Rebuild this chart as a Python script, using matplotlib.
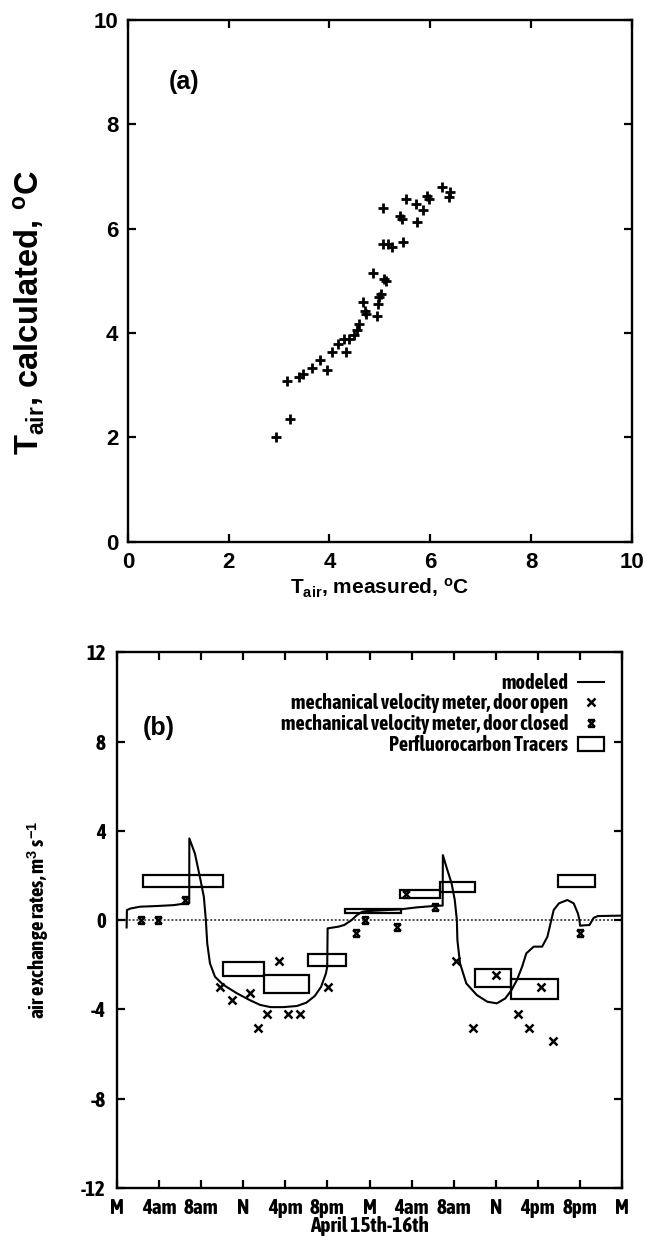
import matplotlib
matplotlib.use("Agg")
import matplotlib.pyplot as plt
from matplotlib.path import Path


FONT_A = ["Liberation Sans", "DejaVu Sans"]
FONT_B = ["Asap Condensed", "Liberation Sans", "DejaVu Sans"]

# (a) measured vs calculated air temperature, deg C
T_MEASURED = [2.93, 3.21, 3.16, 3.39, 3.47, 3.65, 3.81, 3.96, 4.05, 4.17, 4.32,
              4.29, 4.39, 4.49, 4.54, 4.59, 4.67, 4.71, 4.73, 4.87, 4.94, 4.97,
              4.98, 5.03, 5.06, 5.07, 5.08, 5.13, 5.16, 5.24, 5.40, 5.43, 5.46,
              5.52, 5.72, 5.74, 5.85, 5.93, 5.97, 6.23, 6.39, 6.37]
T_CALCULATED = [2.00, 2.35, 3.08, 3.16, 3.22, 3.34, 3.49, 3.30, 3.64, 3.79, 3.64,
                3.89, 3.89, 3.97, 4.06, 4.17, 4.59, 4.42, 4.37, 5.16, 4.33, 4.56,
                4.69, 4.75, 5.70, 6.39, 5.03, 4.99, 5.70, 5.64, 6.25, 6.19, 5.75,
                6.57, 6.47, 6.12, 6.36, 6.63, 6.56, 6.80, 6.70, 6.61]

# (b) air exchange rates, hours from midnight April 15th
MODEL_HOURS = [0.92, 0.95, 1.3, 2.2, 3.8, 5.4, 6.6, 6.87, 6.88, 7.41, 7.88, 8.26,
               8.45, 8.58, 8.84, 9.32, 10.1, 11.4, 12.6, 13.6, 14.6, 15.8, 17.1,
               18.0, 18.8, 19.4, 19.86, 19.98, 20.02, 21.0, 21.6, 22.3, 22.8,
               23.3, 23.7, 26.9, 28.5, 30.1, 30.95, 30.97, 31.3, 31.8, 32.1, 32.3,
               32.35, 32.6, 33.2, 34.2, 35.2, 36.1, 36.9, 37.5, 38.0, 38.5, 38.9,
               39.6, 40.4, 40.9, 41.2, 41.5, 42.0, 42.8, 43.4, 43.8, 43.95, 44.0,
               44.9, 45.3, 45.7, 48.0]
MODEL_RATE = [-0.33, 0.45, 0.52, 0.6, 0.63, 0.67, 0.75, 0.75, 3.66, 2.98, 1.94,
              1.04, 0.0, -1.04, -1.94, -2.54, -2.9, -3.28, -3.58, -3.8, -3.9,
              -3.9, -3.85, -3.7, -3.4, -2.99, -2.39, -2.1, -0.37, -0.3, -0.22,
              0.0, 0.22, 0.37, 0.4, 0.48, 0.57, 0.63, 0.65, 2.91, 2.39, 1.64, 0.9,
              0.0, -0.9, -1.94, -2.84, -3.36, -3.66, -3.73, -3.51, -3.13, -2.69,
              -2.09, -1.49, -1.19, -1.19, -0.75, -0.15, 0.45, 0.75, 0.9, 0.75,
              0.3, 0.0, -0.25, -0.22, 0.1, 0.18, 0.2]

OPEN_HOURS = [9.8, 10.9, 12.6, 13.45, 14.3, 15.4, 16.25, 17.4, 20.07, 32.25,
              33.8, 36.05, 38.1, 39.2, 40.25, 41.4]
OPEN_RATE = [-2.99, -3.6, -3.27, -4.82, -4.2, -1.83, -4.2, -4.2, -3.0, -1.83,
             -4.82, -2.44, -4.2, -4.82, -2.98, -5.42]

CLOSED_HOURS = [2.3, 3.95, 6.45, 22.7, 23.6, 26.6, 27.5, 30.25, 44.0]
CLOSED_RATE = [0.0, 0.0, 0.9, -0.6, 0.0, -0.3, 1.18, 0.58, -0.6]

PFT_START = [2.45, 10.1, 14.0, 18.2, 21.7, 26.9, 30.7, 34.0, 37.45, 41.9]
PFT_END = [10.1, 14.0, 18.25, 21.8, 27.0, 30.7, 34.0, 37.45, 41.95, 45.45]
PFT_LOW = [1.49, -2.5, -3.28, -2.06, 0.33, 0.97, 1.27, -2.98, -3.52, 1.48]
PFT_HIGH = [2.02, -1.87, -2.46, -1.52, 0.48, 1.37, 1.72, -2.21, -2.64, 2.02]

HOUR_TICKS = list(range(0, 49, 4))
HOUR_LABELS = ["M", "4am", "8am", "N", "4pm", "8pm",
               "M", "4am", "8am", "N", "4pm", "8pm", "M"]

# gnuplot-like "door closed" glyph: an x closed off at top and bottom
CLOSED_MARKER = Path(
    [(-1, -1), (1, 1), (-1, 1), (1, -1), (-1, 1), (1, 1), (-1, -1), (1, -1)],
    [Path.MOVETO, Path.LINETO] * 4,
)


def style_axis(axis, size, pad, family):
    axis.tick_params(direction="in", top=True, right=True, length=6, width=1.6,
                     labelsize=size, pad=pad)
    for spine in axis.spines.values():
        spine.set_linewidth(1.7)
    for label in axis.get_xticklabels() + axis.get_yticklabels():
        label.set_fontweight("bold")
        label.set_family(family)


def build_plot():
    plt.rcParams["font.family"] = FONT_A
    plt.rcParams["font.weight"] = "bold"
    plt.rcParams["axes.labelweight"] = "bold"
    plt.rcParams["axes.unicode_minus"] = False
    plt.rcParams["mathtext.fontset"] = "custom"
    plt.rcParams["mathtext.rm"] = "Liberation Sans:bold"
    plt.rcParams["mathtext.it"] = "Liberation Sans:bold"
    plt.rcParams["mathtext.bf"] = "Liberation Sans:bold"
    plt.rcParams["mathtext.default"] = "rm"

    fig = plt.figure(figsize=(6.46, 12.4), dpi=100)

    # panel (a)
    ax_a = fig.add_axes([0.198, 0.563, 0.780, 0.421])
    ax_a.plot(T_MEASURED, T_CALCULATED, linestyle="none", marker="+",
              color="black", markersize=7, markeredgewidth=2.0)
    ax_a.set_xlim(0, 10)
    ax_a.set_ylim(0, 10)
    ax_a.set_xticks(range(0, 11, 2))
    ax_a.set_yticks(range(0, 11, 2))
    style_axis(ax_a, 16, 7, FONT_A)
    ax_a.set_xlabel(r"T$_{air}$, measured, $^{o}$C", fontsize=15, labelpad=3)
    ax_a.set_ylabel(r"T$_{air}$, calculated, $^{o}$C", fontsize=23.5)
    ax_a.yaxis.set_label_coords(-0.16, 0.44)
    ax_a.text(1.12, 8.8, "(a)", fontsize=18, ha="center", va="center")

    # panel (b)
    ax_b = fig.add_axes([0.181, 0.042, 0.782, 0.432])
    ax_b.axhline(0, color="0.3", linestyle=(0, (1, 1)), linewidth=1.4, zorder=1)
    ax_b.plot(MODEL_HOURS, MODEL_RATE, color="black", linewidth=1.5,
              label="modeled", zorder=3)
    ax_b.plot(OPEN_HOURS, OPEN_RATE, linestyle="none", marker="x", color="black",
              markersize=5.5, markeredgewidth=1.8,
              label="mechanical velocity meter, door open")
    ax_b.plot(CLOSED_HOURS, CLOSED_RATE, linestyle="none", marker=CLOSED_MARKER,
              color="black", markersize=5, markeredgewidth=1.7,
              label="mechanical velocity meter, door closed")
    widths = [end - start for start, end in zip(PFT_START, PFT_END)]
    heights = [high - low for low, high in zip(PFT_LOW, PFT_HIGH)]
    ax_b.bar(PFT_START, heights, width=widths, bottom=PFT_LOW, align="edge",
             fill=False, edgecolor="black", linewidth=1.6,
             label="Perfluorocarbon Tracers", zorder=2)
    ax_b.set_xlim(0, 48)
    ax_b.set_ylim(-12, 12)
    ax_b.set_xticks(HOUR_TICKS)
    ax_b.set_xticklabels(HOUR_LABELS)
    ax_b.set_yticks(range(-12, 13, 4))
    style_axis(ax_b, 15, 8, FONT_B)
    ax_b.tick_params(axis="x", pad=7)
    ax_b.set_xlabel("April 15th-16th", fontsize=15.3, labelpad=-1, family=FONT_B)
    ax_b.set_ylabel(r"air exchange rates, m$^{3}$ s$^{-1}$", fontsize=15,
                    family=FONT_B)
    ax_b.yaxis.set_label_coords(-0.13, 0.5)
    ax_b.text(4.0, 8.6, "(b)", fontsize=18, ha="center", va="center")

    legend = ax_b.legend(loc="upper right", bbox_to_anchor=(0.965, 0.962),
                         frameon=False, markerfirst=False,
                         prop={"family": FONT_B, "weight": "bold", "size": 14.5},
                         handlelength=1.3, handletextpad=0.5, labelspacing=0.04,
                         borderaxespad=0, borderpad=0)

    fig.savefig("out.png", dpi=100)
    plt.close(fig)


def main():
    build_plot()


if __name__ == "__main__":
    main()
